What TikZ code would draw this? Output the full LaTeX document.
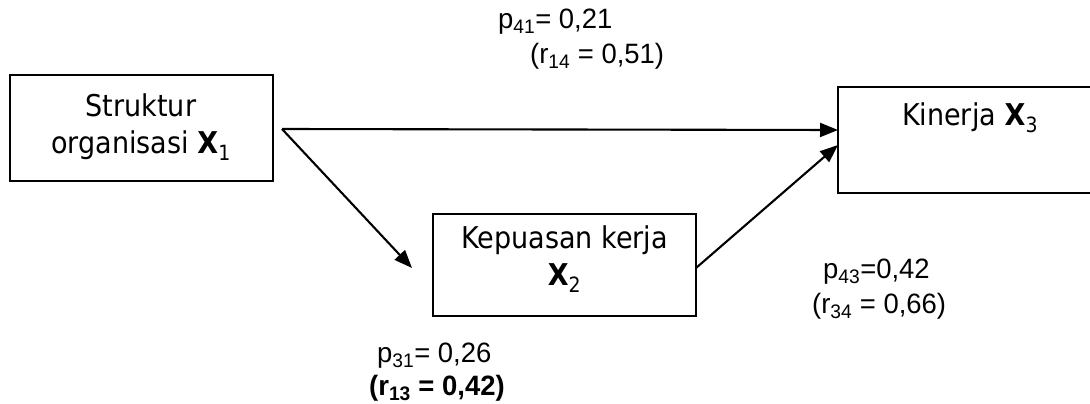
\documentclass[tikz,border=0pt]{standalone}
\usepackage{fontspec}
\usepackage{graphicx}
\setmainfont{Liberation Sans}
\newfontfamily\boxfont{DejaVu Sans}
\usetikzlibrary{arrows.meta}
\newcommand\wlab[1]{\scalebox{0.98}[1]{#1}}
\newcommand\wbox[1]{\scalebox{0.9}[1]{#1}}
\begin{document}
\begin{tikzpicture}[x=1pt,y=-1pt,
  box/.style={draw,line width=1.9pt,inner sep=0pt},
  boxtext/.style={font=\boxfont\fontsize{30}{37}\selectfont,align=center,inner sep=0pt},
  lab/.style={font=\fontsize{28}{32}\selectfont,anchor=west,inner sep=0pt},
  arr/.style={line width=2.1pt,-{Triangle[length=18pt,width=14pt]}}]
\useasboundingbox (0,0) rectangle (1090,404);
\node[box,minimum width=263pt,minimum height=106pt] (b1) at (141.5,128) {};
\node[box,minimum width=263pt,minimum height=102pt] (b2) at (564.5,265) {};
\draw[line width=1.9pt] (1092,87) -- (838,87) -- (838,193) -- (1092,193);
\coordinate (b3w1) at (838,130);
\coordinate (b3w2) at (838,145);
\node[boxtext] (t1) at (141,127) {\wbox{Struktur}\\\wbox{organisasi \textbf{X}\textsubscript{1}}};
\node[boxtext] (t2) at (564.5,259) {\wbox{Kepuasan kerja}\\\wbox{\textbf{X}\textsubscript{2}}};
\node[boxtext] (t3) at (970,118) {\wbox{Kinerja \textbf{X}\textsubscript{3}}};
\coordinate (s1) at (282,129);
\coordinate (e2) at (412,268);
\coordinate (s3) at (696,268);
\draw[arr] (s1) -- (b3w1);
\draw[arr] (s1) -- (e2);
\draw[arr] (s3) -- (b3w2);
\node[lab] (l1) at (498,22) {\wlab{p\textsubscript{41}= 0,21}};
\node[lab] (l2) at (530,56) {\wlab{(r\textsubscript{14} = 0,51)}};
\node[lab] (l3) at (823,272) {\wlab{p\textsubscript{43}=0,42}};
\node[lab] (l4) at (812,306) {\wlab{(r\textsubscript{34} = 0,66)}};
\node[lab] (l5) at (377,356) {\wlab{p\textsubscript{31}= 0,26}};
\node[lab,font=\fontsize{28}{32}\selectfont\bfseries] (l6) at (369,388) {\wlab{(r\textsubscript{13} = 0,42)}};
\end{tikzpicture}
\end{document}
